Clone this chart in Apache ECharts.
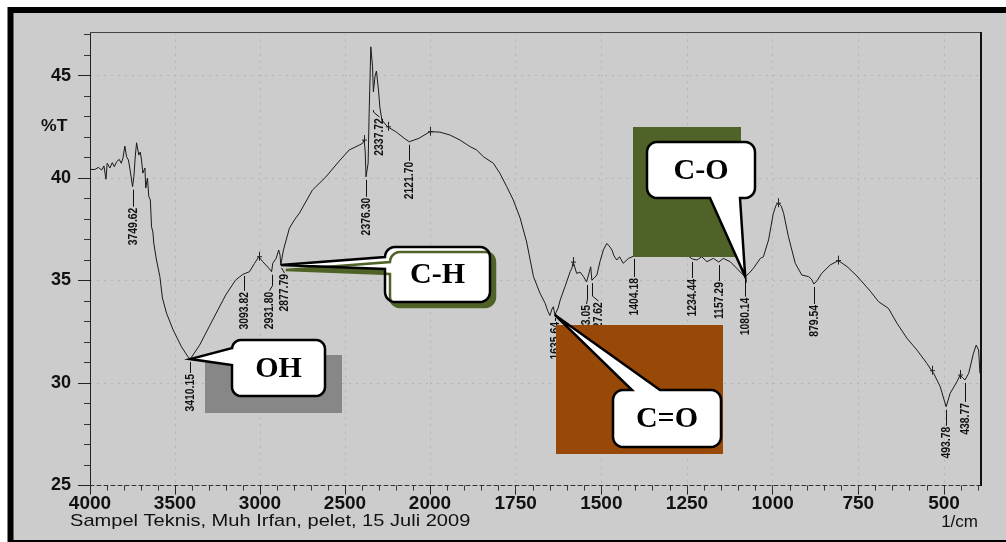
<!DOCTYPE html>
<html>
<head>
<meta charset="utf-8">
<script src="https://cdn.jsdelivr.net/npm/echarts@6/dist/echarts.min.js"></script>
<style>
  html, body { margin: 0; padding: 0; background: #ffffff; }
  #chart { width: 1006px; height: 542px; }
</style>
</head>
<body>
<div id="chart"></div>
<script>
// FTIR transmittance spectrum, %T against wavenumber (1/cm), split scale at 2000
const wavenumbers = [
  4000, 3971, 3951, 3931, 3918, 3906, 3899, 3883, 3869, 3857, 3843, 3828, 3816, 3806, 3795, 3785, 3774, 3765,
  3749.62, 3742, 3733, 3726, 3713, 3704, 3697, 3689, 3677, 3672, 3662, 3654, 3645, 3638, 3630, 3625, 3609, 3589,
  3574, 3550, 3511, 3462, 3423, 3410.15, 3355, 3279, 3202, 3144, 3101, 3093.82, 3062, 3032, 3007, 2984, 2948,
  2931.80, 2925, 2905, 2890, 2882, 2877.79, 2862, 2846, 2827, 2798, 2768, 2692, 2612, 2534, 2475, 2416, 2397,
  2387, 2381, 2376.30, 2364, 2358, 2348, 2344, 2338, 2333, 2323, 2315, 2303, 2295, 2283, 2250, 2201, 2152,
  2121.70, 2065, 2000,
  1971, 1942, 1912, 1883, 1864, 1844, 1815, 1796, 1776, 1757, 1737, 1718, 1698, 1679, 1664, 1656, 1650, 1644,
  1640, 1635.64, 1626, 1620, 1606, 1591, 1586, 1582, 1572, 1562, 1552, 1543.05, 1538, 1531, 1527.62, 1521, 1513,
  1504, 1494, 1484, 1477, 1469, 1463, 1455, 1447, 1436, 1421, 1404.18, 1396, 1372, 1328, 1285, 1247, 1234.44,
  1221, 1207, 1192, 1173, 1157.29, 1144, 1124, 1105, 1092, 1080.14, 1068, 1056, 1036, 1027, 1012, 998, 990, 983,
  975, 968, 954, 934, 915, 895, 887, 879.54, 870, 857, 832, 808, 783, 754, 715, 691, 662, 637, 608, 579, 550,
  536, 530, 511, 493.78, 482, 462, 453, 445, 438.77, 428, 414, 406, 399, 395
];
const transmittance = [
  40.42, 40.42, 40.52, 40.39, 40.59, 39.94, 40.72, 40.49, 40.75, 40.55, 40.80, 40.91, 40.72, 40.98, 41.56, 41.04, 40.88, 40.44,
  39.58, 40.06, 41.12, 41.72, 41.12, 41.27, 40.88, 40.24, 40.49, 39.51, 40.00, 39.09, 38.93, 37.62, 37.37, 36.83, 36.00, 35.19,
  34.15, 33.41, 32.59, 31.77, 31.27, 31.17, 31.85, 33.07, 34.29, 35.02, 35.30, 35.37, 35.43, 35.84, 36.16, 35.92, 35.60,
  35.43, 35.84, 36.08, 36.49, 36.24, 35.76, 36.49, 36.98, 37.55, 37.95, 38.29, 39.41, 40.06, 40.83, 41.37, 41.61, 41.69,
  41.85, 41.27, 40.06, 40.72, 43.16, 46.40, 46.49, 45.43, 44.20, 44.98, 45.22, 44.29, 43.46, 42.83, 42.50, 42.26, 41.94,
  41.77, 41.94, 42.26,
  42.24, 42.10, 41.85, 41.53, 41.37, 41.04, 40.72, 40.23, 39.58, 38.93, 38.05, 36.88, 35.19, 34.38, 33.89, 33.50, 33.29, 33.61,
  33.72, 33.32, 33.66, 34.05, 34.70, 35.43, 35.60, 35.90, 35.35, 35.41, 35.19, 34.93, 35.02, 35.67, 35.02, 35.12, 35.27,
  35.92, 36.49, 36.81, 36.68, 36.49, 36.20, 36.00, 36.16, 35.84, 36.08, 36.20, 36.33, 36.49, 36.73, 36.50, 36.20, 36.05,
  36.00, 36.16, 35.92, 36.08, 35.90, 36.08, 35.92, 35.60, 35.37, 35.19, 35.37, 35.60, 36.08, 36.16, 36.98, 38.28, 38.68, 38.77,
  38.63, 38.28, 37.14, 35.84, 35.27, 35.19, 35.07, 34.83, 35.00, 35.35, 35.76, 35.97, 35.68, 35.22, 34.48, 33.97, 33.64, 32.91, 32.18, 31.61, 30.96,
  30.60, 30.47, 29.82, 28.84, 29.50, 30.07, 30.39, 30.25, 30.15, 30.47, 31.45, 31.85, 31.61, 30.47
];

// Labelled minima
const peakLabels = ['3749.62', '3410.15', '3093.82', '2931.80', '2877.79', '2376.30', '2337.72', '2121.70',
  '1635.64', '1543.05', '1527.62', '1404.18', '1234.44', '1157.29', '1080.14', '879.54', '493.78', '438.77'];
const peakWavenumbers = [3749.62, 3410.15, 3093.82, 2931.80, 2877.79, 2376.30, 2337.72, 2121.70,
  1635.64, 1543.05, 1527.62, 1404.18, 1234.44, 1157.29, 1080.14, 879.54, 493.78, 438.77];
const peakTransmittance = [39.58, 31.17, 35.37, 35.43, 35.76, 40.06, 43.46, 41.77,
  33.32, 34.93, 35.02, 36.20, 36.05, 35.90, 35.19, 34.83, 28.84, 30.15];

// Small cursor marks on local maxima
const markWavenumbers = [3007, 2387, 2250, 2000, 1582, 983, 808, 536, 453];
const markTransmittance = [36.16, 41.85, 42.50, 42.26, 35.90, 38.77, 35.97, 30.60, 30.39];

// Axis ticks
const xTicksHigh = [4000, 3500, 3000, 2500, 2000];
const xTicksLow = [1750, 1500, 1250, 1000, 750, 500];
const yTicks = [25, 30, 35, 40, 45];

// Band assignments pointed at by callouts
const bandNames = ['OH', 'C-H', 'C=O', 'C-O'];
const bandWavenumbers = [3410.15, 2877.79, 1635.64, 1080.14];
const bandTransmittance = [31.17, 35.76, 33.32, 35.19];

const captionText = 'Sampel Teknis, Muh Irfan, pelet, 15 Juli 2009';

// ---- layout helpers (not data) ----
const leaderLayout = {
  '3749.62': { lead: 21 }, '3410.15': { lead: 15 }, '3093.82': { lead: 19 }, '2931.80': { lead: 20, dx: -3 },
  '2877.79': { lead: 9, dx: 3 }, '2376.30': { lead: 21 }, '2337.72': { lead: 11, dx: 6 }, '2121.70': { lead: 20 },
  '1635.64': { lead: 7 }, '1543.05': { lead: 23, dx: -1 }, '1527.62': { lead: 22, dx: 6 }, '1404.18': { lead: 22 },
  '1234.44': { lead: 20 }, '1157.29': { lead: 20 }, '1080.14': { lead: 21 }, '879.54': { lead: 21 },
  '493.78': { lead: 20 }, '438.77': { lead: 23 }
};

const FONT_SANS = '"Liberation Sans", Arial, sans-serif';
const FONT_SERIF = '"Liberation Serif", "Times New Roman", serif';

const highData = [], lowData = [];
wavenumbers.forEach((w, i) => {
  if (w >= 2000) highData.push([w, transmittance[i]]);
  if (w <= 2000) lowData.push([w, transmittance[i]]);
});
const peakIdx = peakWavenumbers.map((_, i) => i);
const markIdx = markWavenumbers.map((_, i) => i);

function range(a, b, step) { const r = []; for (let v = a; v >= b; v -= step) r.push(v); return r; }
const yMinor = []; for (let v = 26; v <= 47; v++) if (v % 5) yMinor.push(v);
const xMinorLow = range(1950, 400, 50);

const gridLine = { show: true, lineStyle: { color: '#b4b4b4', type: [2, 5], width: 1 } };
const plainNumber = v => String(v);

function peakSeries(xi, yi, idxs) {
  return {
    type: 'custom', xAxisIndex: xi, yAxisIndex: yi, z: 3, silent: true, clip: false,
    data: idxs.map(i => [peakWavenumbers[i], peakTransmittance[i], i]),
    renderItem(params, api) {
      const i = api.value(2);
      const p = api.coord([api.value(0), api.value(1)]);
      const lay = leaderLayout[peakLabels[i]] || {};
      const lead = lay.lead ?? 20, dx = lay.dx ?? 0;
      const x0 = Math.round(p[0]) + 0.5, y0 = p[1];
      const ty = y0 + lead;
      const pts = dx ? [[x0, y0 + 3], [x0, Math.max(y0 + 3, ty - 6)], [x0 + dx, ty - 1]] : [[x0, y0 + 3], [x0, ty - 1]];
      return {
        type: 'group', children: [
          { type: 'polyline', shape: { points: pts }, style: { stroke: '#111', lineWidth: 1, fill: null } },
          {
            type: 'text', x: x0 + dx, y: ty, rotation: Math.PI / 2, scaleX: 0.8,
            style: {
              text: peakLabels[i], fill: '#111', fontSize: 13, fontWeight: 'bold', fontFamily: FONT_SANS,
              align: 'right', textAlign: 'right', verticalAlign: 'middle', textVerticalAlign: 'middle'
            }
          }
        ]
      };
    }
  };
}

function markSeries(xi, yi, idxs) {
  return {
    type: 'custom', xAxisIndex: xi, yAxisIndex: yi, z: 3, silent: true, clip: false,
    data: idxs.map(i => [markWavenumbers[i], markTransmittance[i]]),
    renderItem(params, api) {
      const p = api.coord([api.value(0), api.value(1)]);
      const x = Math.round(p[0]) + 0.5;
      return {
        type: 'group', children: [
          { type: 'line', shape: { x1: x, y1: p[1] - 5, x2: x, y2: p[1] + 4 }, style: { stroke: '#222', lineWidth: 1 } },
          { type: 'line', shape: { x1: x - 2.5, y1: p[1], x2: x + 2.5, y2: p[1] }, style: { stroke: '#222', lineWidth: 1 } }
        ]
      };
    }
  };
}

const chart = echarts.init(document.getElementById('chart'), null, { renderer: 'canvas' });

const GRID_TOP = 32.5, GRID_H = 453;
const tickLabelStyle = { color: '#111', fontSize: 19, fontWeight: 'bold', fontFamily: FONT_SANS, formatter: plainNumber };

chart.setOption({
  animation: false,
  backgroundColor: '#ffffff',
  grid: [
    { left: 90, top: GRID_TOP, width: 340, height: GRID_H },
    { left: 430, top: GRID_TOP, width: 551, height: GRID_H }
  ],
  xAxis: [
    {
      gridIndex: 0, type: 'value', position: 'bottom', inverse: true, min: 2000, max: 4000, interval: 500,
      axisLine: { show: true, lineStyle: { color: '#333', width: 1, type: [4, 3] } },
      axisTick: { show: true, length: 9, lineStyle: { color: '#222' } },
      minorTick: { show: true, splitNumber: 5, length: 5, lineStyle: { color: '#333' } },
      axisLabel: Object.assign({ show: true, margin: 9, customValues: xTicksHigh }, tickLabelStyle),
      splitLine: gridLine
    },
    {
      gridIndex: 1, type: 'value', position: 'bottom', inverse: true, min: 392, max: 2000,
      axisLine: { show: true, lineStyle: { color: '#333', width: 1, type: [4, 3] } },
      axisTick: { show: true, length: 9, customValues: xTicksLow, lineStyle: { color: '#222' } },
      axisLabel: Object.assign({ show: true, margin: 9, customValues: xTicksLow }, tickLabelStyle),
      splitLine: gridLine
    },
    {
      gridIndex: 1, type: 'value', position: 'bottom', inverse: true, min: 392, max: 2000,
      axisLine: { show: false },
      axisTick: { show: true, length: 5, customValues: xMinorLow, lineStyle: { color: '#333' } },
      axisLabel: { show: false },
      splitLine: { show: false }
    }
  ],
  yAxis: [
    {
      gridIndex: 0, type: 'value', position: 'left', min: 25, max: 47.1,
      axisLine: { show: true, lineStyle: { color: '#222', width: 1 } },
      axisTick: { show: true, length: 12, customValues: yTicks, lineStyle: { color: '#222' } },
      axisLabel: Object.assign({ show: true, margin: 19, customValues: yTicks }, tickLabelStyle, { fontSize: 18 }),
      splitLine: gridLine
    },
    {
      gridIndex: 0, type: 'value', position: 'left', min: 25, max: 47.1,
      axisLine: { show: false },
      axisTick: { show: true, length: 6, customValues: yMinor, lineStyle: { color: '#333' } },
      axisLabel: { show: false },
      splitLine: { show: false }
    },
    {
      gridIndex: 1, type: 'value', position: 'left', min: 25, max: 47.1,
      axisLine: { show: false },
      axisTick: { show: false, customValues: yTicks },
      axisLabel: { show: false },
      splitLine: gridLine
    }
  ],
  series: [
    {
      type: 'line', xAxisIndex: 0, yAxisIndex: 0, data: highData, showSymbol: false, z: 2,
      lineStyle: { color: '#1a1a1a', width: 1 }, silent: true
    },
    {
      type: 'line', xAxisIndex: 1, yAxisIndex: 2, data: lowData, showSymbol: false, z: 2,
      lineStyle: { color: '#1a1a1a', width: 1 }, silent: true
    },
    peakSeries(0, 0, peakIdx.filter(i => peakWavenumbers[i] >= 2000)),
    peakSeries(1, 2, peakIdx.filter(i => peakWavenumbers[i] < 2000)),
    markSeries(0, 0, markIdx.filter(i => markWavenumbers[i] > 2000)),
    markSeries(1, 2, markIdx.filter(i => markWavenumbers[i] <= 2000))
  ]
});

// Pixel position of a spectrum point, whichever half of the split axis it falls in
function toPixel(w, t) {
  return w >= 2000
    ? chart.convertToPixel({ xAxisIndex: 0, yAxisIndex: 0 }, [w, t])
    : chart.convertToPixel({ xAxisIndex: 1, yAxisIndex: 2 }, [w, t]);
}

function arcPts(cx, cy, r, a0, a1, n = 6) {
  const pts = [];
  for (let k = 0; k <= n; k++) {
    const a = a0 + (a1 - a0) * k / n;
    pts.push([cx + r * Math.cos(a), cy + r * Math.sin(a)]);
  }
  return pts;
}

// Rounded speech bubble outline with a pointer on one edge
function bubblePoints(b, tail) {
  const { x, y, w, h, r } = b;
  const tip = tail.tip;
  const pts = [[x + r, y]];
  if (tail.edge === 'top') pts.push([tail.a, y], tip, [tail.b, y]);
  pts.push(...arcPts(x + w - r, y + r, r, -Math.PI / 2, 0));
  pts.push(...arcPts(x + w - r, y + h - r, r, 0, Math.PI / 2));
  if (tail.edge === 'bottom') pts.push([tail.b, y + h], tip, [tail.a, y + h]);
  pts.push(...arcPts(x + r, y + h - r, r, Math.PI / 2, Math.PI));
  if (tail.edge === 'left') pts.push([x, tail.b], tip, [x, tail.a]);
  pts.push(...arcPts(x + r, y + r, r, Math.PI, 1.5 * Math.PI));
  return pts;
}

const bubbles = [
  { box: { x: 232, y: 340, w: 93, h: 56, r: 9 }, tail: { edge: 'left', a: 348, b: 365 },
    back: { x: 205, y: 355, w: 137, h: 58, color: '#878787' }, shadow: null },
  { box: { x: 385, y: 247, w: 105, h: 55, r: 10 }, tail: { edge: 'left', a: 257, b: 269 },
    back: null, shadow: '#4f6228' },
  { box: { x: 613, y: 390, w: 108, h: 57, r: 10 }, tail: { edge: 'top', a: 632, b: 660 },
    back: { x: 556, y: 325, w: 167, h: 129, color: '#984807' }, shadow: null },
  { box: { x: 647, y: 142, w: 108, h: 56, r: 10 }, tail: { edge: 'bottom', a: 710, b: 740 },
    back: { x: 633, y: 127, w: 108, h: 130, color: '#4f6228' }, shadow: null }
];

const graphics = [
  { type: 'rect', z: -100, silent: true, shape: { x: 10.5, y: 10, width: 1010, height: 533 },
    style: { fill: '#cccccc', stroke: '#000000', lineWidth: 6 } },
  { type: 'line', z: 5, silent: true, shape: { x1: 90, y1: 32.5, x2: 981, y2: 32.5 }, style: { stroke: '#444', lineWidth: 1.2 } },
  { type: 'line', z: 5, silent: true, shape: { x1: 981, y1: 32, x2: 981, y2: 486 }, style: { stroke: '#111', lineWidth: 2 } },
  { type: 'text', z: 5, silent: true, x: 41, y: 127, scaleX: 1.1,
    style: { text: '%T', fill: '#111', font: `bold 16px ${FONT_SANS}`, align: 'left', textAlign: 'left', verticalAlign: 'middle', textVerticalAlign: 'middle' } },
  { type: 'text', z: 5, silent: true, x: 70, y: 521, scaleX: 1.18,
    style: { text: captionText, fill: '#111', font: `17px ${FONT_SANS}`, align: 'left', textAlign: 'left', verticalAlign: 'middle', textVerticalAlign: 'middle' } },
  { type: 'text', z: 5, silent: true, x: 978, y: 522,
    style: { text: '1/cm', fill: '#111', font: `17px ${FONT_SANS}`, align: 'right', textAlign: 'right', verticalAlign: 'middle', textVerticalAlign: 'middle' } }
];

bubbles.forEach((bb, i) => {
  const tip = toPixel(bandWavenumbers[i], bandTransmittance[i]);
  if (bb.back) {
    graphics.push({ type: 'rect', z: 50, silent: true,
      shape: { x: bb.back.x, y: bb.back.y, width: bb.back.w, height: bb.back.h },
      style: { fill: bb.back.color } });
  }
  const style = { fill: '#ffffff', stroke: '#000000', lineWidth: 2.5, lineJoin: 'miter' };
  if (bb.shadow) Object.assign(style, { shadowColor: bb.shadow, shadowBlur: 0, shadowOffsetX: 5, shadowOffsetY: 5 });
  graphics.push({ type: 'polygon', z: 60, silent: true,
    shape: { points: bubblePoints(bb.box, Object.assign({ tip }, bb.tail)) }, style });
  graphics.push({ type: 'text', z: 61, silent: true,
    x: bb.box.x + bb.box.w / 2, y: bb.box.y + bb.box.h / 2 + 1,
    style: { text: bandNames[i], fill: '#000', font: `bold 30px ${FONT_SERIF}`,
      align: 'center', textAlign: 'center', verticalAlign: 'middle', textVerticalAlign: 'middle' } });
});

chart.setOption({ graphic: graphics });
</script>
</body>
</html>
